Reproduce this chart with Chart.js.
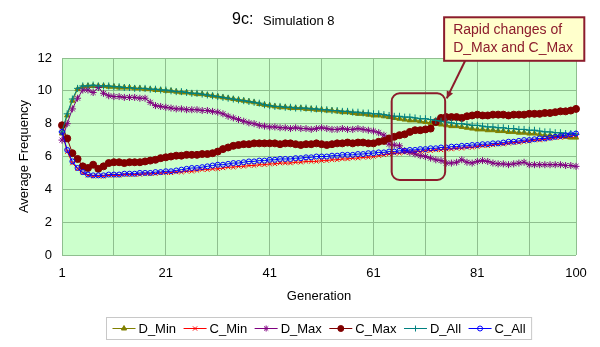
<!DOCTYPE html>
<html>
<head>
<meta charset="utf-8">
<script src="https://cdn.jsdelivr.net/npm/chart.js@4"></script>
<style>
  body { margin: 0; background: #fff; }
</style>
</head>
<body>
<canvas id="chart" width="600" height="347"></canvas>
<script>
const generations = Array.from({ length: 100 }, (_, i) => String(i + 1));
const tickLabels = ['1', '21', '41', '61', '81', '100'];
const yTicks = [0, 2, 4, 6, 8, 10, 12];

const dMin = [
  7.4, 8.5, 9.4, 10.1, 10.25, 10.3, 10.3, 10.3, 10.3, 10.25,
  10.25, 10.2, 10.2, 10.2, 10.15, 10.15, 10.1, 10.1, 10.05, 10.05,
  10.0, 10.0, 9.95, 9.9, 9.9, 9.85, 9.8, 9.8, 9.75, 9.7,
  9.65, 9.6, 9.55, 9.5, 9.45, 9.4, 9.35, 9.3, 9.2, 9.15,
  9.1, 9.05, 9.0, 9.0, 8.95, 8.95, 8.95, 8.9, 8.9, 8.85,
  8.85, 8.8, 8.8, 8.75, 8.7, 8.7, 8.65, 8.6, 8.6, 8.55,
  8.5, 8.5, 8.45, 8.4, 8.35, 8.3, 8.25, 8.2, 8.2, 8.15,
  8.1, 8.05, 8.0, 7.95, 7.9, 7.85, 7.85, 7.8, 7.75, 7.7,
  7.65, 7.65, 7.6, 7.6, 7.55, 7.55, 7.5, 7.5, 7.45, 7.45,
  7.4, 7.4, 7.35, 7.3, 7.3, 7.25, 7.25, 7.2, 7.15, 7.15
];
const cMin = [
  7.5, 6.3, 5.6, 5.25, 5.0, 4.85, 4.8, 4.8, 4.8, 4.85,
  4.85, 4.85, 4.9, 4.9, 4.9, 4.9, 4.95, 4.95, 4.95, 5.0,
  5.0, 5.0, 5.05, 5.05, 5.1, 5.1, 5.15, 5.2, 5.2, 5.25,
  5.25, 5.3, 5.35, 5.35, 5.4, 5.4, 5.45, 5.45, 5.5, 5.5,
  5.55, 5.55, 5.6, 5.6, 5.6, 5.65, 5.65, 5.7, 5.7, 5.7,
  5.75, 5.75, 5.8, 5.8, 5.85, 5.85, 5.9, 5.9, 5.95, 5.95,
  6.0, 6.05, 6.1, 6.15, 6.2, 6.2, 6.25, 6.25, 6.3, 6.3,
  6.35, 6.35, 6.4, 6.4, 6.45, 6.45, 6.5, 6.5, 6.55, 6.55,
  6.6, 6.65, 6.65, 6.7, 6.75, 6.75, 6.8, 6.85, 6.85, 6.9,
  6.95, 7.0, 7.0, 7.05, 7.1, 7.15, 7.15, 7.2, 7.25, 7.3
];
const dMax = [
  7.0, 8.0, 8.9, 9.55, 10.05, 10.05, 9.9, 10.2, 9.85, 9.7,
  9.65, 9.65, 9.6, 9.6, 9.6, 9.55, 9.55, 9.3, 9.1, 9.05,
  9.0, 8.95, 8.9, 8.9, 8.85, 8.85, 8.85, 8.8, 8.8, 8.75,
  8.7, 8.6, 8.45, 8.35, 8.25, 8.15, 8.05, 8.0, 7.9, 7.85,
  7.8, 7.8, 7.75, 7.75, 7.7, 7.75, 7.7, 7.7, 7.65, 7.7,
  7.75, 7.7, 7.65, 7.65, 7.7, 7.65, 7.65, 7.7, 7.65, 7.6,
  7.55, 7.45, 7.3, 6.75, 6.7, 6.65, 6.35, 6.25, 6.15, 6.05,
  6.0, 5.9, 5.8, 5.75, 5.6, 5.6, 5.65, 5.8, 5.65, 5.6,
  5.7, 5.75, 5.7, 5.6, 5.55, 5.55, 5.5, 5.55, 5.6, 5.65,
  5.5, 5.5, 5.5, 5.5, 5.5, 5.5, 5.5, 5.45, 5.45, 5.4
];
const cMax = [
  7.9, 7.1, 6.2, 5.85, 5.4, 5.3, 5.5, 5.25, 5.4, 5.6,
  5.65, 5.65, 5.6, 5.65, 5.65, 5.65, 5.7, 5.75, 5.8, 5.9,
  5.95, 6.0, 6.05, 6.05, 6.1, 6.1, 6.1, 6.15, 6.15, 6.2,
  6.3, 6.45, 6.55, 6.65, 6.7, 6.75, 6.75, 6.8, 6.8, 6.8,
  6.8, 6.8, 6.75, 6.8, 6.8, 6.75, 6.7, 6.75, 6.75, 6.8,
  6.75, 6.7, 6.75, 6.8, 6.8, 6.85, 6.8, 6.85, 6.85, 6.8,
  6.8, 6.9, 6.95, 7.1, 7.2, 7.3, 7.35, 7.5, 7.6, 7.6,
  7.65, 7.7, 8.1, 8.35, 8.4, 8.4, 8.4, 8.35, 8.45, 8.5,
  8.55, 8.5, 8.5, 8.55, 8.55, 8.55, 8.5, 8.55, 8.55, 8.55,
  8.6, 8.6, 8.6, 8.65, 8.65, 8.7, 8.75, 8.75, 8.8, 8.9
];
const dAll = [
  7.5, 8.6, 9.5, 10.15, 10.3, 10.3, 10.35, 10.3, 10.3, 10.3,
  10.25, 10.25, 10.2, 10.2, 10.15, 10.15, 10.15, 10.1, 10.1, 10.05,
  10.05, 10.0, 9.95, 9.95, 9.9, 9.85, 9.85, 9.8, 9.75, 9.7,
  9.65, 9.6, 9.55, 9.5, 9.45, 9.4, 9.35, 9.3, 9.25, 9.15,
  9.1, 9.05, 9.05, 9.0, 9.0, 8.95, 8.95, 8.95, 8.9, 8.9,
  8.85, 8.85, 8.8, 8.8, 8.75, 8.75, 8.7, 8.7, 8.65, 8.65,
  8.6, 8.6, 8.55, 8.5, 8.45, 8.45, 8.4, 8.4, 8.35, 8.3,
  8.3, 8.25, 8.2, 8.15, 8.1, 8.05, 8.0, 8.0, 7.95, 7.9,
  7.9, 7.85, 7.8, 7.8, 7.75, 7.75, 7.7, 7.7, 7.65, 7.65,
  7.6, 7.6, 7.55, 7.5, 7.5, 7.45, 7.45, 7.4, 7.4, 7.35
];
const cAll = [
  7.5, 6.4, 5.7, 5.3, 5.05, 4.9, 4.85, 4.85, 4.85, 4.9,
  4.9, 4.9, 4.95, 4.95, 4.95, 5.0, 5.0, 5.0, 5.05, 5.05,
  5.1, 5.1, 5.15, 5.2, 5.25, 5.3, 5.3, 5.35, 5.4, 5.45,
  5.5, 5.5, 5.55, 5.6, 5.6, 5.65, 5.7, 5.7, 5.75, 5.75,
  5.8, 5.8, 5.85, 5.85, 5.85, 5.9, 5.9, 5.95, 5.95, 6.0,
  6.0, 6.0, 6.05, 6.05, 6.1, 6.1, 6.1, 6.15, 6.15, 6.2,
  6.2, 6.25, 6.25, 6.3, 6.3, 6.35, 6.35, 6.4, 6.4, 6.45,
  6.45, 6.5, 6.5, 6.55, 6.55, 6.6, 6.6, 6.65, 6.65, 6.7,
  6.7, 6.75, 6.75, 6.8, 6.8, 6.85, 6.9, 6.9, 6.95, 7.0,
  7.0, 7.05, 7.1, 7.1, 7.15, 7.2, 7.25, 7.3, 7.35, 7.4
];

const FONT = '"Liberation Sans", Arial, sans-serif';
const gridColor = '#8FBF8F';
const maroon = '#8C1C2C';

Chart.defaults.font.family = FONT;
Chart.defaults.color = '#000';

// series in legend order; lower "order" is painted on top
const series = [
  { label: 'D_Min', data: dMin, color: '#808000', style: 'triangle', r: 3, fill: '#808000', order: 5 },
  { label: 'C_Min', data: cMin, color: '#FF0000', style: 'crossRot', r: 3, fill: '#FF0000', order: 4 },
  { label: 'D_Max', data: dMax, color: '#800080', style: 'star', r: 3.5, fill: '#800080', order: 3 },
  { label: 'C_Max', data: cMax, color: '#800000', style: 'circle', r: 3.5, fill: '#800000', order: 2 },
  { label: 'D_All', data: dAll, color: '#008080', style: 'cross', r: 3.5, fill: '#008080', order: 1 },
  { label: 'C_All', data: cAll, color: '#0000FF', style: 'circle', r: 2.5, fill: 'rgba(0,0,0,0)', order: 0 }
];

const plotBg = {
  id: 'plotBg',
  beforeDraw(chart) {
    const { ctx, chartArea: a } = chart;
    ctx.save();
    ctx.fillStyle = '#CCFFCC';
    ctx.fillRect(a.left, a.top, a.right - a.left, a.bottom - a.top);
    ctx.restore();
  }
};

// title, callout and legend
const extras = {
  id: 'extras',
  afterDraw(chart) {
    const { ctx, chartArea: a } = chart;
    const xs = chart.scales.x, ys = chart.scales.y;
    ctx.save();

    // title
    ctx.fillStyle = '#000';
    ctx.textBaseline = 'middle';
    ctx.textAlign = 'left';
    ctx.font = '16px ' + FONT;
    ctx.fillText('9c:', 232, 20);
    ctx.font = '13px ' + FONT;
    ctx.fillText('Simulation 8', 263, 21);

    // rounded frame around the jump
    const fx1 = xs.getPixelForValue(63.5), fx2 = xs.getPixelForValue(73.8);
    const fy1 = ys.getPixelForValue(9.85), fy2 = ys.getPixelForValue(4.57);
    ctx.strokeStyle = maroon;
    ctx.lineWidth = 2;
    ctx.beginPath();
    ctx.roundRect(fx1, fy1, fx2 - fx1, fy2 - fy1, 8);
    ctx.stroke();

    // callout box
    const bx1 = xs.getPixelForValue(73.6), bx2 = xs.getPixelForValue(100.6);
    const by1 = ys.getPixelForValue(14.48), by2 = ys.getPixelForValue(11.83);
    ctx.fillStyle = '#FFFFCC';
    ctx.fillRect(bx1, by1, bx2 - bx1, by2 - by1);
    ctx.strokeRect(bx1, by1, bx2 - bx1, by2 - by1);
    ctx.fillStyle = maroon;
    ctx.font = '14px ' + FONT;
    ctx.fillText('Rapid changes of', bx1 + 9, by1 + 13);
    ctx.fillText('D_Max and C_Max', bx1 + 9, by1 + 31);

    // arrow
    const ax1 = xs.getPixelForValue(77.65), ay1 = by2;
    const ax2 = xs.getPixelForValue(74.1), ay2 = ys.getPixelForValue(9.54);
    ctx.beginPath();
    ctx.moveTo(ax1, ay1);
    ctx.lineTo(ax2, ay2);
    ctx.stroke();
    const ang = Math.atan2(ay2 - ay1, ax2 - ax1);
    ctx.beginPath();
    ctx.moveTo(ax2, ay2);
    ctx.lineTo(ax2 - 8 * Math.cos(ang - 0.45), ay2 - 8 * Math.sin(ang - 0.45));
    ctx.lineTo(ax2 - 8 * Math.cos(ang + 0.45), ay2 - 8 * Math.sin(ang + 0.45));
    ctx.closePath();
    ctx.fill();

    // legend
    ctx.font = '13px ' + FONT;
    const lineLen = 23, gap = 3, itemGap = 7.5, pad = 6;
    let total = pad * 2;
    series.forEach((s, i) => {
      total += lineLen + gap + ctx.measureText(s.label).width + (i ? itemGap : 0);
    });
    const cx = (a.left + a.right) / 2;
    const lx = Math.round(cx - total / 2) + 0.5, ly = 317.5, lh = 22;
    ctx.strokeStyle = '#C8C8C8';
    ctx.lineWidth = 1;
    ctx.strokeRect(lx, ly, total, lh);
    let x = lx + pad;
    const my = ly + lh / 2;
    series.forEach((s) => {
      ctx.strokeStyle = s.color;
      ctx.lineWidth = 1;
      ctx.beginPath();
      ctx.moveTo(x, my);
      ctx.lineTo(x + lineLen, my);
      ctx.stroke();
      ctx.fillStyle = s.fill;
      Chart.helpers.drawPoint(ctx, { pointStyle: s.style, radius: Math.min(s.r, 3), borderWidth: 1, rotation: 0 }, x + lineLen / 2, my);
      x += lineLen + gap;
      ctx.fillStyle = '#000';
      ctx.fillText(s.label, x, my + 0.5);
      x += ctx.measureText(s.label).width + itemGap;
    });

    ctx.restore();
  }
};

new Chart(document.getElementById('chart'), {
  type: 'line',
  data: {
    labels: generations,
    datasets: series.map((s) => ({
      label: s.label,
      data: s.data,
      order: s.order,
      borderColor: s.color,
      borderWidth: 1,
      pointStyle: s.style,
      pointRadius: s.r,
      pointBorderColor: s.color,
      pointBackgroundColor: s.fill,
      pointBorderWidth: 1,
      tension: 0,
      fill: false
    }))
  },
  options: {
    responsive: false,
    animation: false,
    devicePixelRatio: 1,
    layout: { padding: { top: 58, right: 24, bottom: 42, left: 0 } },
    plugins: {
      legend: { display: false },
      tooltip: { enabled: false },
      title: { display: false }
    },
    scales: {
      x: {
        offset: false,
        afterFit(scale) { scale.height = 50; },
        grid: {
          drawTicks: false,
          color: (c) => (c.index % 10 === 0 || c.index === 99) ? gridColor : 'rgba(0,0,0,0)'
        },
        border: { display: false },
        ticks: {
          autoSkip: false,
          maxRotation: 0,
          padding: 11,
          font: { size: 13 },
          callback(value) {
            const lab = this.getLabelForValue(value);
            return tickLabels.includes(lab) ? lab : '';
          }
        },
        title: {
          display: true,
          text: 'Generation',
          font: { size: 13 },
          padding: { top: 0, bottom: 1 }
        }
      },
      y: {
        min: 0,
        max: 12,
        afterFit(scale) { scale.width = 62; },
        afterBuildTicks(scale) { scale.ticks = yTicks.map((v) => ({ value: v })); },
        grid: { drawTicks: false, color: gridColor },
        border: { display: false },
        ticks: { padding: 10, font: { size: 13 } },
        title: {
          display: true,
          text: 'Average Frequency',
          font: { size: 13 },
          padding: { top: 17, bottom: 0 }
        }
      }
    }
  },
  plugins: [plotBg, extras]
});
</script>
</body>
</html>
